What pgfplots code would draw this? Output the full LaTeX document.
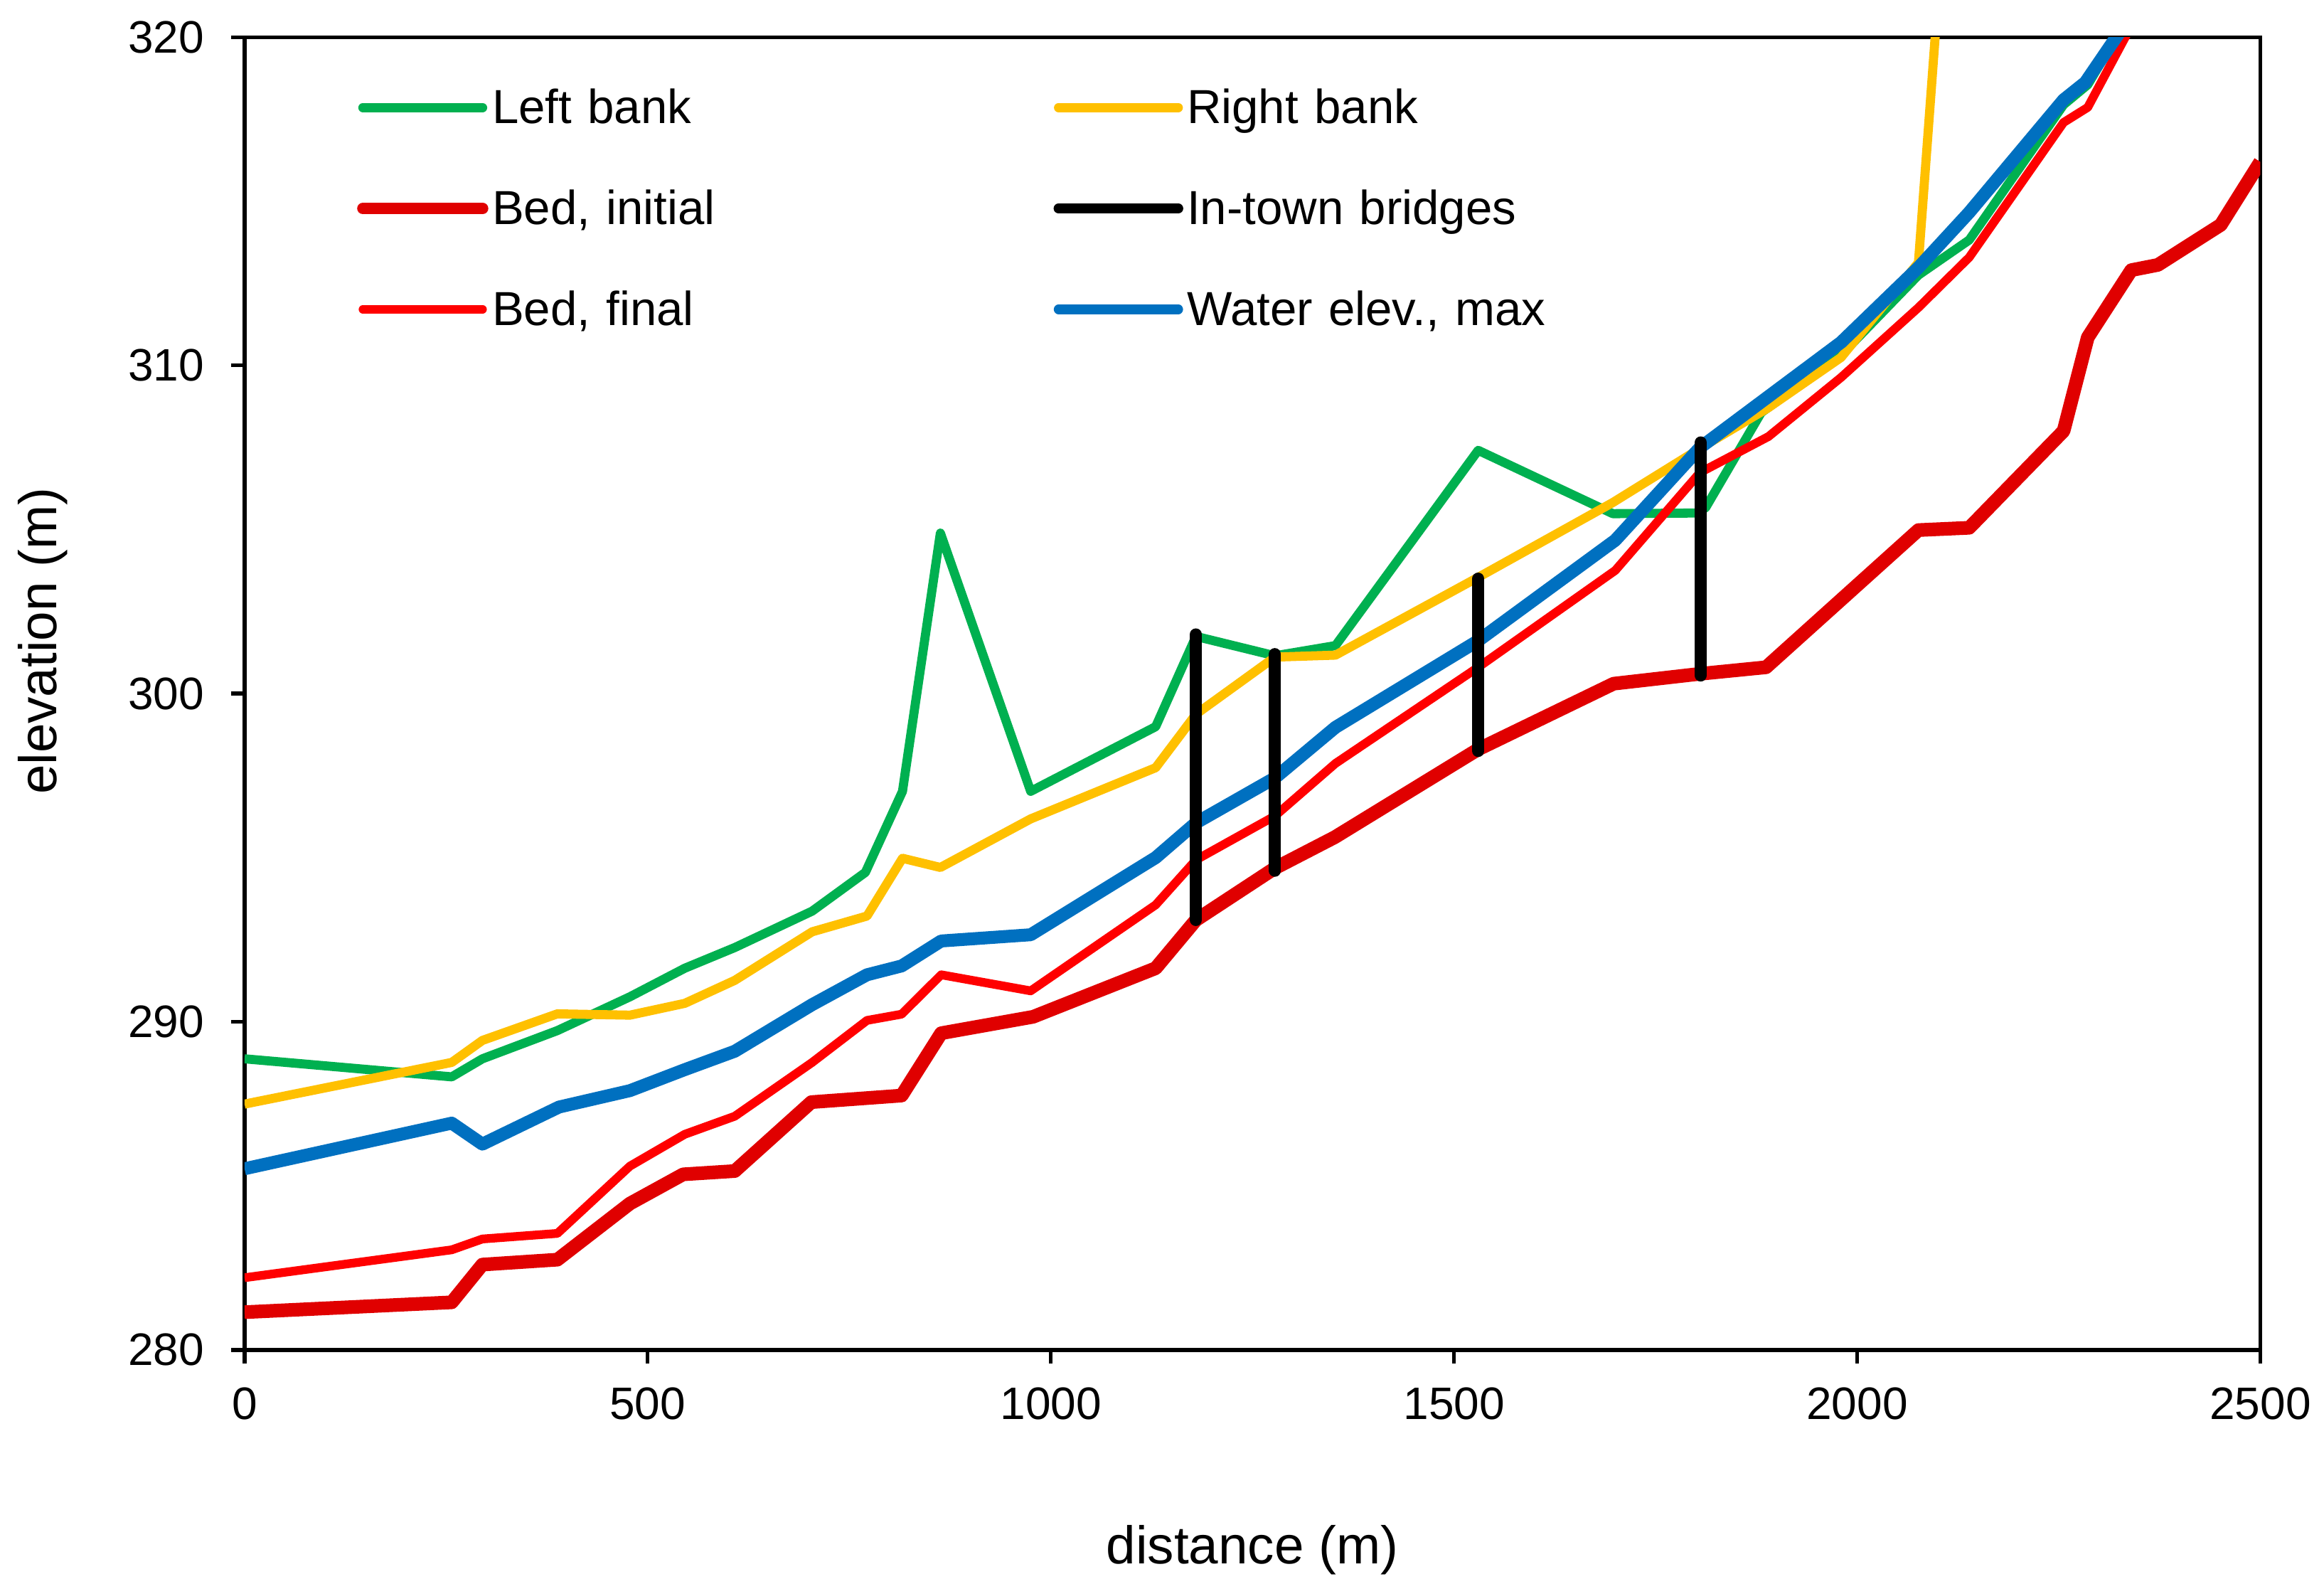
\documentclass[border=0pt]{standalone}
\usepackage{fontspec}
\setmainfont{Liberation Sans}
\usepackage{pgfplots}
\pgfplotsset{compat=1.18}
\definecolor{cgreen}{HTML}{00B050}
\definecolor{cyellow}{HTML}{FFC000}
\definecolor{cdred}{HTML}{E00000}
\definecolor{cred}{HTML}{FF0000}
\definecolor{cblue}{HTML}{0070C0}

\pgfplotstableread{
x y
0 288.87
257 288.32
295 288.87
388 289.73
478 290.76
546 291.63
608 292.26
704 293.37
770 294.55
816 297.02
863 304.89
975 297.02
1130 298.99
1180 301.74
1278 301.15
1353 301.46
1530 307.41
1697 305.48
1800 305.50
1812 305.66
1881 308.56
1980 310.31
2076 312.75
2139 313.82
2256 317.94
2286 318.55
2338 320.70
}\leftbank

\pgfplotstableread{
x y
0 287.49
257 288.76
295 289.43
388 290.24
478 290.20
546 290.56
608 291.26
704 292.74
772 293.22
816 294.98
863 294.70
975 296.18
1130 297.74
1180 299.37
1278 301.11
1353 301.17
1530 303.54
1697 305.82
1812 307.57
1890 308.71
1980 310.24
2076 313.13
2110 324.40
}\rightbank

\pgfplotstableread{
x y
0 281.15
257 281.45
295 282.60
388 282.75
478 284.46
544 285.35
608 285.45
703 287.55
815 287.75
864 289.65
978 290.15
1130 291.63
1180 293.10
1278 294.68
1352 295.62
1530 298.30
1698 300.30
1805 300.60
1887 300.80
2076 304.98
2139 305.05
2256 308.00
2286 310.85
2340 312.90
2373 313.06
2451 314.28
2500 316.20
}\bedinit

\pgfplotstableread{
x y
0 282.20
257 283.05
295 283.38
388 283.55
478 285.60
546 286.57
608 287.12
704 288.76
772 290.04
815 290.23
864 291.43
975 290.94
1130 293.56
1180 294.93
1278 296.27
1353 297.87
1530 300.80
1700 303.75
1805 306.73
1890 307.83
1980 309.63
2076 311.76
2139 313.29
2256 317.40
2286 317.86
2338 320.25
}\bedfinal

\pgfplotstableread{
x y
0 285.52
257 286.91
295 286.27
390 287.40
478 287.90
546 288.54
608 289.10
704 290.52
772 291.43
815 291.70
864 292.46
975 292.65
1130 295.00
1180 296.06
1278 297.43
1353 298.97
1530 301.61
1700 304.67
1805 307.49
1884 308.94
1980 310.70
2076 312.98
2139 314.66
2256 318.09
2283 318.62
2338 320.60
}\water

\begin{document}
\fontsize{12}{14.4}\selectfont
\begin{tikzpicture}
\useasboundingbox (0,0) rectangle (613pt,419pt);
\begin{axis}[
  at={(64.5pt,63pt)}, anchor=south west,
  scale only axis, width=531.7pt, height=346.2pt,
  xmin=0, xmax=2500, ymin=280, ymax=320,
  xtick={0,500,...,2500}, ytick={280,290,...,320},
  tick align=outside, tick pos=left, major tick length=3.5pt,
  axis line style={line width=1pt},
  every tick/.style={black, line width=1pt},
  /pgf/number format/assume math mode=true,
  /pgf/number format/set thousands separator={},
  xticklabel style={yshift=-2.2pt},
  yticklabel style={xshift=-3pt},
  xlabel={distance (m)}, ylabel={elevation (m)},
  label style={font=\fontsize{14}{16.8}\selectfont},
  xlabel style={at={(axis description cs:0.5,-0.1523)}, anchor=center},
  ylabel style={at={(axis description cs:-0.1001,0.540)}, anchor=center},
  legend columns=2,
  legend style={draw=none, fill=none,
    at={(axis description cs:0.0555,0.9635)}, anchor=north west,
    inner sep=0pt, row sep=15.1pt, column sep=0pt,
    font=\fontsize{12.6}{15}\selectfont,
    nodes={inner xsep=1pt, inner ysep=0pt, text height=10pt, text depth=1.5pt, anchor=west, text width=147.1pt}},
  legend image code/.code={\draw[#1, line cap=round] (0pt,0pt) -- (31.6pt,0pt);},
]
\addplot[cgreen, line width=2.4pt, line join=round, forget plot] table {\leftbank};
\addplot[cyellow, line width=2.4pt, line join=round, forget plot] table {\rightbank};
\addplot[cdred, line width=3.6pt, line join=round, forget plot] table {\bedinit};
\addplot[cred, line width=2.3pt, line join=round, forget plot] table {\bedfinal};
\addplot[cblue, line width=3.4pt, line join=round, forget plot] table {\water};
\addplot[black, line width=3.2pt, line cap=round, forget plot] coordinates {(1180,293.1) (1180,301.8)};
\addplot[black, line width=3.2pt, line cap=round, forget plot] coordinates {(1278,294.6) (1278,301.2)};
\addplot[black, line width=3.2pt, line cap=round, forget plot] coordinates {(1530,298.25) (1530,303.5)};
\addplot[black, line width=3.2pt, line cap=round, forget plot] coordinates {(1806,300.55) (1806,307.65)};

\addlegendimage{cgreen, line width=2.4pt}
\addlegendentry{Left bank}
\addlegendimage{cyellow, line width=2.4pt}
\addlegendentry{Right bank}
\addlegendimage{cdred, line width=3pt}
\addlegendentry{Bed, initial}
\addlegendimage{black, line width=2.6pt}
\addlegendentry{In-town bridges}
\addlegendimage{cred, line width=2.2pt}
\addlegendentry{Bed, final}
\addlegendimage{cblue, line width=2.5pt}
\addlegendentry{Water elev., max}
\end{axis}
\end{tikzpicture}
\end{document}
